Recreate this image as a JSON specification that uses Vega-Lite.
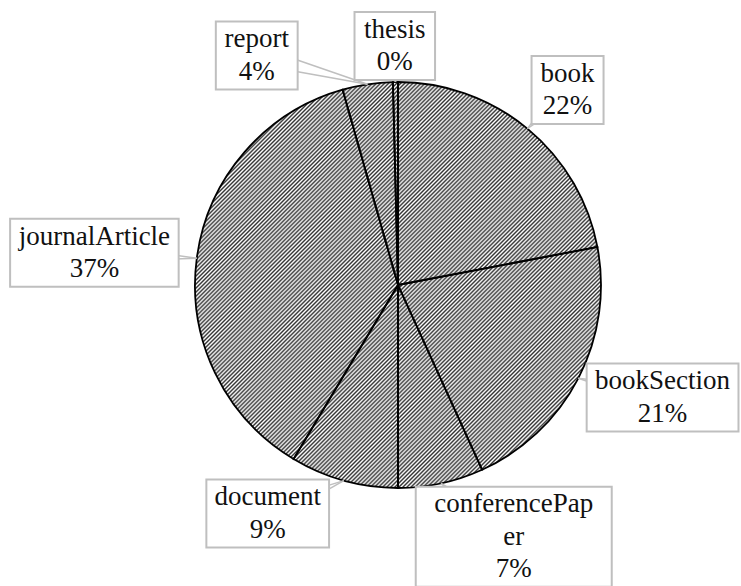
{
  "$schema": "https://vega.github.io/schema/vega-lite/v6.json",
  "width": 686,
  "height": 570,
  "autosize": "none",
  "padding": {"left": 55, "top": 0, "right": 0, "bottom": 16},
  "background": "white",
  "config": {"view": {"stroke": null}},
  "data": {
    "values": [
      {"type": "book", "value": 220},
      {"type": "bookSection", "value": 212},
      {"type": "conferencePaper", "value": 68},
      {"type": "document", "value": 86},
      {"type": "journalArticle", "value": 370},
      {"type": "report", "value": 40},
      {"type": "thesis", "value": 4}
    ]
  },
  "transform": [
    {"joinaggregate": [{"op": "sum", "field": "value", "as": "total"}]},
    {"window": [{"op": "sum", "field": "value", "as": "cum"}], "sort": [{"field": "type", "order": "ascending"}], "frame": [null, 0]},
    {"calculate": "datum.value / datum.total", "as": "share"},
    {"calculate": "(datum.cum - datum.value / 2) / datum.total * 2 * PI", "as": "mid"},
    {"calculate": "length(datum.type) > 14 ? [substring(datum.type, 0, 13), substring(datum.type, 13), format(datum.share, '.0%')] : [datum.type, format(datum.share, '.0%')]", "as": "lines"},
    {"calculate": "datum.lines[0]", "as": "t0"},
    {"calculate": "27 * (0.5 * length(datum.t0) - 0.222 * (length(datum.t0) - length(replace(datum.t0, regexp('[ijlt]', 'g'), ''))) - 0.167 * (length(datum.t0) - length(replace(datum.t0, regexp('[fr]', 'g'), ''))) - 0.08 * (length(datum.t0) - length(replace(datum.t0, regexp('[sceaz]', 'g'), ''))) + 0.26 * (length(datum.t0) - length(replace(datum.t0, regexp('[mwACDGHNOQUVW]', 'g'), ''))) + 0.06 * (length(datum.t0) - length(replace(datum.t0, regexp('[BEFKPRSTXYZ]', 'g'), ''))))", "as": "w1"},
    {"calculate": "length(datum.lines) > 2 ? 98 : datum.w1 / 2 + 9", "as": "hw"},
    {"calculate": "length(datum.lines) * 16 + 2", "as": "hh"},
    {"calculate": "datum.mid + (datum.type === 'report' ? -0.372 : datum.type === 'document' ? 0.19 : datum.type === 'conferencePaper' ? -0.147 : 0)", "as": "a"},
    {"calculate": "datum.type === 'report' ? 20 : datum.type === 'document' ? 10 : datum.type === 'conferencePaper' ? 8 : datum.type === 'book' ? 8 : datum.type === 'thesis' ? -6 : 0", "as": "rn"},
    {"calculate": "(222 + datum.hw + datum.rn) * sin(datum.a)", "as": "cx"},
    {"calculate": "(211 + datum.hh + datum.rn) * cos(datum.a)", "as": "cy"},
    {"calculate": "datum.cy + (length(datum.lines) - 1) * 16.25", "as": "ty"},
    {"calculate": "203 * sin(datum.mid)", "as": "tipx"},
    {"calculate": "203 * cos(datum.mid)", "as": "tipy"},
    {"calculate": "datum.cx - datum.hw", "as": "bx1"},
    {"calculate": "datum.cx + datum.hw", "as": "bx2"},
    {"calculate": "datum.cy - datum.hh", "as": "by1"},
    {"calculate": "datum.cy + datum.hh", "as": "by2"},
    {"calculate": "sqrt(pow(datum.cx - datum.tipx, 2) + pow(datum.cy - datum.tipy, 2))", "as": "len"},
    {"calculate": "datum.cx - (datum.cy - datum.tipy) / datum.len * 9", "as": "v1x"},
    {"calculate": "datum.cy + (datum.cx - datum.tipx) / datum.len * 9", "as": "v1y"},
    {"calculate": "datum.cx + (datum.cy - datum.tipy) / datum.len * 9", "as": "v2x"},
    {"calculate": "datum.cy - (datum.cx - datum.tipx) / datum.len * 9", "as": "v2y"}
  ],
  "layer": [
    {
      "transform": [{"aggregate": [{"op": "sum", "field": "value", "as": "sum"}]}],
      "mark": {
        "type": "arc",
        "outerRadius": 203,
        "stroke": null,
        "fill": {
          "gradient": "linear", "x1": 0, "y1": 0, "x2": 1, "y2": 1,
          "stops": [
{"offset":0,"color":"#333"},{"offset":0.0025,"color":"#fff"},{"offset":0.005,"color":"#333"},{"offset":0.0075,"color":"#fff"},{"offset":0.01,"color":"#333"},{"offset":0.0125,"color":"#fff"},{"offset":0.015,"color":"#333"},{"offset":0.0175,"color":"#fff"},{"offset":0.02,"color":"#333"},{"offset":0.0225,"color":"#fff"},
{"offset":0.025,"color":"#333"},{"offset":0.0275,"color":"#fff"},{"offset":0.03,"color":"#333"},{"offset":0.0325,"color":"#fff"},{"offset":0.035,"color":"#333"},{"offset":0.0375,"color":"#fff"},{"offset":0.04,"color":"#333"},{"offset":0.0425,"color":"#fff"},{"offset":0.045,"color":"#333"},{"offset":0.0475,"color":"#fff"},
{"offset":0.05,"color":"#333"},{"offset":0.0525,"color":"#fff"},{"offset":0.055,"color":"#333"},{"offset":0.0575,"color":"#fff"},{"offset":0.06,"color":"#333"},{"offset":0.0625,"color":"#fff"},{"offset":0.065,"color":"#333"},{"offset":0.0675,"color":"#fff"},{"offset":0.07,"color":"#333"},{"offset":0.0725,"color":"#fff"},
{"offset":0.075,"color":"#333"},{"offset":0.0775,"color":"#fff"},{"offset":0.08,"color":"#333"},{"offset":0.0825,"color":"#fff"},{"offset":0.085,"color":"#333"},{"offset":0.0875,"color":"#fff"},{"offset":0.09,"color":"#333"},{"offset":0.0925,"color":"#fff"},{"offset":0.095,"color":"#333"},{"offset":0.0975,"color":"#fff"},
{"offset":0.1,"color":"#333"},{"offset":0.1025,"color":"#fff"},{"offset":0.105,"color":"#333"},{"offset":0.1075,"color":"#fff"},{"offset":0.11,"color":"#333"},{"offset":0.1125,"color":"#fff"},{"offset":0.115,"color":"#333"},{"offset":0.1175,"color":"#fff"},{"offset":0.12,"color":"#333"},{"offset":0.1225,"color":"#fff"},
{"offset":0.125,"color":"#333"},{"offset":0.1275,"color":"#fff"},{"offset":0.13,"color":"#333"},{"offset":0.1325,"color":"#fff"},{"offset":0.135,"color":"#333"},{"offset":0.1375,"color":"#fff"},{"offset":0.14,"color":"#333"},{"offset":0.1425,"color":"#fff"},{"offset":0.145,"color":"#333"},{"offset":0.1475,"color":"#fff"},
{"offset":0.15,"color":"#333"},{"offset":0.1525,"color":"#fff"},{"offset":0.155,"color":"#333"},{"offset":0.1575,"color":"#fff"},{"offset":0.16,"color":"#333"},{"offset":0.1625,"color":"#fff"},{"offset":0.165,"color":"#333"},{"offset":0.1675,"color":"#fff"},{"offset":0.17,"color":"#333"},{"offset":0.1725,"color":"#fff"},
{"offset":0.175,"color":"#333"},{"offset":0.1775,"color":"#fff"},{"offset":0.18,"color":"#333"},{"offset":0.1825,"color":"#fff"},{"offset":0.185,"color":"#333"},{"offset":0.1875,"color":"#fff"},{"offset":0.19,"color":"#333"},{"offset":0.1925,"color":"#fff"},{"offset":0.195,"color":"#333"},{"offset":0.1975,"color":"#fff"},
{"offset":0.2,"color":"#333"},{"offset":0.2025,"color":"#fff"},{"offset":0.205,"color":"#333"},{"offset":0.2075,"color":"#fff"},{"offset":0.21,"color":"#333"},{"offset":0.2125,"color":"#fff"},{"offset":0.215,"color":"#333"},{"offset":0.2175,"color":"#fff"},{"offset":0.22,"color":"#333"},{"offset":0.2225,"color":"#fff"},
{"offset":0.225,"color":"#333"},{"offset":0.2275,"color":"#fff"},{"offset":0.23,"color":"#333"},{"offset":0.2325,"color":"#fff"},{"offset":0.235,"color":"#333"},{"offset":0.2375,"color":"#fff"},{"offset":0.24,"color":"#333"},{"offset":0.2425,"color":"#fff"},{"offset":0.245,"color":"#333"},{"offset":0.2475,"color":"#fff"},
{"offset":0.25,"color":"#333"},{"offset":0.2525,"color":"#fff"},{"offset":0.255,"color":"#333"},{"offset":0.2575,"color":"#fff"},{"offset":0.26,"color":"#333"},{"offset":0.2625,"color":"#fff"},{"offset":0.265,"color":"#333"},{"offset":0.2675,"color":"#fff"},{"offset":0.27,"color":"#333"},{"offset":0.2725,"color":"#fff"},
{"offset":0.275,"color":"#333"},{"offset":0.2775,"color":"#fff"},{"offset":0.28,"color":"#333"},{"offset":0.2825,"color":"#fff"},{"offset":0.285,"color":"#333"},{"offset":0.2875,"color":"#fff"},{"offset":0.29,"color":"#333"},{"offset":0.2925,"color":"#fff"},{"offset":0.295,"color":"#333"},{"offset":0.2975,"color":"#fff"},
{"offset":0.3,"color":"#333"},{"offset":0.3025,"color":"#fff"},{"offset":0.305,"color":"#333"},{"offset":0.3075,"color":"#fff"},{"offset":0.31,"color":"#333"},{"offset":0.3125,"color":"#fff"},{"offset":0.315,"color":"#333"},{"offset":0.3175,"color":"#fff"},{"offset":0.32,"color":"#333"},{"offset":0.3225,"color":"#fff"},
{"offset":0.325,"color":"#333"},{"offset":0.3275,"color":"#fff"},{"offset":0.33,"color":"#333"},{"offset":0.3325,"color":"#fff"},{"offset":0.335,"color":"#333"},{"offset":0.3375,"color":"#fff"},{"offset":0.34,"color":"#333"},{"offset":0.3425,"color":"#fff"},{"offset":0.345,"color":"#333"},{"offset":0.3475,"color":"#fff"},
{"offset":0.35,"color":"#333"},{"offset":0.3525,"color":"#fff"},{"offset":0.355,"color":"#333"},{"offset":0.3575,"color":"#fff"},{"offset":0.36,"color":"#333"},{"offset":0.3625,"color":"#fff"},{"offset":0.365,"color":"#333"},{"offset":0.3675,"color":"#fff"},{"offset":0.37,"color":"#333"},{"offset":0.3725,"color":"#fff"},
{"offset":0.375,"color":"#333"},{"offset":0.3775,"color":"#fff"},{"offset":0.38,"color":"#333"},{"offset":0.3825,"color":"#fff"},{"offset":0.385,"color":"#333"},{"offset":0.3875,"color":"#fff"},{"offset":0.39,"color":"#333"},{"offset":0.3925,"color":"#fff"},{"offset":0.395,"color":"#333"},{"offset":0.3975,"color":"#fff"},
{"offset":0.4,"color":"#333"},{"offset":0.4025,"color":"#fff"},{"offset":0.405,"color":"#333"},{"offset":0.4075,"color":"#fff"},{"offset":0.41,"color":"#333"},{"offset":0.4125,"color":"#fff"},{"offset":0.415,"color":"#333"},{"offset":0.4175,"color":"#fff"},{"offset":0.42,"color":"#333"},{"offset":0.4225,"color":"#fff"},
{"offset":0.425,"color":"#333"},{"offset":0.4275,"color":"#fff"},{"offset":0.43,"color":"#333"},{"offset":0.4325,"color":"#fff"},{"offset":0.435,"color":"#333"},{"offset":0.4375,"color":"#fff"},{"offset":0.44,"color":"#333"},{"offset":0.4425,"color":"#fff"},{"offset":0.445,"color":"#333"},{"offset":0.4475,"color":"#fff"},
{"offset":0.45,"color":"#333"},{"offset":0.4525,"color":"#fff"},{"offset":0.455,"color":"#333"},{"offset":0.4575,"color":"#fff"},{"offset":0.46,"color":"#333"},{"offset":0.4625,"color":"#fff"},{"offset":0.465,"color":"#333"},{"offset":0.4675,"color":"#fff"},{"offset":0.47,"color":"#333"},{"offset":0.4725,"color":"#fff"},
{"offset":0.475,"color":"#333"},{"offset":0.4775,"color":"#fff"},{"offset":0.48,"color":"#333"},{"offset":0.4825,"color":"#fff"},{"offset":0.485,"color":"#333"},{"offset":0.4875,"color":"#fff"},{"offset":0.49,"color":"#333"},{"offset":0.4925,"color":"#fff"},{"offset":0.495,"color":"#333"},{"offset":0.4975,"color":"#fff"},
{"offset":0.5,"color":"#333"},{"offset":0.5025,"color":"#fff"},{"offset":0.505,"color":"#333"},{"offset":0.5075,"color":"#fff"},{"offset":0.51,"color":"#333"},{"offset":0.5125,"color":"#fff"},{"offset":0.515,"color":"#333"},{"offset":0.5175,"color":"#fff"},{"offset":0.52,"color":"#333"},{"offset":0.5225,"color":"#fff"},
{"offset":0.525,"color":"#333"},{"offset":0.5275,"color":"#fff"},{"offset":0.53,"color":"#333"},{"offset":0.5325,"color":"#fff"},{"offset":0.535,"color":"#333"},{"offset":0.5375,"color":"#fff"},{"offset":0.54,"color":"#333"},{"offset":0.5425,"color":"#fff"},{"offset":0.545,"color":"#333"},{"offset":0.5475,"color":"#fff"},
{"offset":0.55,"color":"#333"},{"offset":0.5525,"color":"#fff"},{"offset":0.555,"color":"#333"},{"offset":0.5575,"color":"#fff"},{"offset":0.56,"color":"#333"},{"offset":0.5625,"color":"#fff"},{"offset":0.565,"color":"#333"},{"offset":0.5675,"color":"#fff"},{"offset":0.57,"color":"#333"},{"offset":0.5725,"color":"#fff"},
{"offset":0.575,"color":"#333"},{"offset":0.5775,"color":"#fff"},{"offset":0.58,"color":"#333"},{"offset":0.5825,"color":"#fff"},{"offset":0.585,"color":"#333"},{"offset":0.5875,"color":"#fff"},{"offset":0.59,"color":"#333"},{"offset":0.5925,"color":"#fff"},{"offset":0.595,"color":"#333"},{"offset":0.5975,"color":"#fff"},
{"offset":0.6,"color":"#333"},{"offset":0.6025,"color":"#fff"},{"offset":0.605,"color":"#333"},{"offset":0.6075,"color":"#fff"},{"offset":0.61,"color":"#333"},{"offset":0.6125,"color":"#fff"},{"offset":0.615,"color":"#333"},{"offset":0.6175,"color":"#fff"},{"offset":0.62,"color":"#333"},{"offset":0.6225,"color":"#fff"},
{"offset":0.625,"color":"#333"},{"offset":0.6275,"color":"#fff"},{"offset":0.63,"color":"#333"},{"offset":0.6325,"color":"#fff"},{"offset":0.635,"color":"#333"},{"offset":0.6375,"color":"#fff"},{"offset":0.64,"color":"#333"},{"offset":0.6425,"color":"#fff"},{"offset":0.645,"color":"#333"},{"offset":0.6475,"color":"#fff"},
{"offset":0.65,"color":"#333"},{"offset":0.6525,"color":"#fff"},{"offset":0.655,"color":"#333"},{"offset":0.6575,"color":"#fff"},{"offset":0.66,"color":"#333"},{"offset":0.6625,"color":"#fff"},{"offset":0.665,"color":"#333"},{"offset":0.6675,"color":"#fff"},{"offset":0.67,"color":"#333"},{"offset":0.6725,"color":"#fff"},
{"offset":0.675,"color":"#333"},{"offset":0.6775,"color":"#fff"},{"offset":0.68,"color":"#333"},{"offset":0.6825,"color":"#fff"},{"offset":0.685,"color":"#333"},{"offset":0.6875,"color":"#fff"},{"offset":0.69,"color":"#333"},{"offset":0.6925,"color":"#fff"},{"offset":0.695,"color":"#333"},{"offset":0.6975,"color":"#fff"},
{"offset":0.7,"color":"#333"},{"offset":0.7025,"color":"#fff"},{"offset":0.705,"color":"#333"},{"offset":0.7075,"color":"#fff"},{"offset":0.71,"color":"#333"},{"offset":0.7125,"color":"#fff"},{"offset":0.715,"color":"#333"},{"offset":0.7175,"color":"#fff"},{"offset":0.72,"color":"#333"},{"offset":0.7225,"color":"#fff"},
{"offset":0.725,"color":"#333"},{"offset":0.7275,"color":"#fff"},{"offset":0.73,"color":"#333"},{"offset":0.7325,"color":"#fff"},{"offset":0.735,"color":"#333"},{"offset":0.7375,"color":"#fff"},{"offset":0.74,"color":"#333"},{"offset":0.7425,"color":"#fff"},{"offset":0.745,"color":"#333"},{"offset":0.7475,"color":"#fff"},
{"offset":0.75,"color":"#333"},{"offset":0.7525,"color":"#fff"},{"offset":0.755,"color":"#333"},{"offset":0.7575,"color":"#fff"},{"offset":0.76,"color":"#333"},{"offset":0.7625,"color":"#fff"},{"offset":0.765,"color":"#333"},{"offset":0.7675,"color":"#fff"},{"offset":0.77,"color":"#333"},{"offset":0.7725,"color":"#fff"},
{"offset":0.775,"color":"#333"},{"offset":0.7775,"color":"#fff"},{"offset":0.78,"color":"#333"},{"offset":0.7825,"color":"#fff"},{"offset":0.785,"color":"#333"},{"offset":0.7875,"color":"#fff"},{"offset":0.79,"color":"#333"},{"offset":0.7925,"color":"#fff"},{"offset":0.795,"color":"#333"},{"offset":0.7975,"color":"#fff"},
{"offset":0.8,"color":"#333"},{"offset":0.8025,"color":"#fff"},{"offset":0.805,"color":"#333"},{"offset":0.8075,"color":"#fff"},{"offset":0.81,"color":"#333"},{"offset":0.8125,"color":"#fff"},{"offset":0.815,"color":"#333"},{"offset":0.8175,"color":"#fff"},{"offset":0.82,"color":"#333"},{"offset":0.8225,"color":"#fff"},
{"offset":0.825,"color":"#333"},{"offset":0.8275,"color":"#fff"},{"offset":0.83,"color":"#333"},{"offset":0.8325,"color":"#fff"},{"offset":0.835,"color":"#333"},{"offset":0.8375,"color":"#fff"},{"offset":0.84,"color":"#333"},{"offset":0.8425,"color":"#fff"},{"offset":0.845,"color":"#333"},{"offset":0.8475,"color":"#fff"},
{"offset":0.85,"color":"#333"},{"offset":0.8525,"color":"#fff"},{"offset":0.855,"color":"#333"},{"offset":0.8575,"color":"#fff"},{"offset":0.86,"color":"#333"},{"offset":0.8625,"color":"#fff"},{"offset":0.865,"color":"#333"},{"offset":0.8675,"color":"#fff"},{"offset":0.87,"color":"#333"},{"offset":0.8725,"color":"#fff"},
{"offset":0.875,"color":"#333"},{"offset":0.8775,"color":"#fff"},{"offset":0.88,"color":"#333"},{"offset":0.8825,"color":"#fff"},{"offset":0.885,"color":"#333"},{"offset":0.8875,"color":"#fff"},{"offset":0.89,"color":"#333"},{"offset":0.8925,"color":"#fff"},{"offset":0.895,"color":"#333"},{"offset":0.8975,"color":"#fff"},
{"offset":0.9,"color":"#333"},{"offset":0.9025,"color":"#fff"},{"offset":0.905,"color":"#333"},{"offset":0.9075,"color":"#fff"},{"offset":0.91,"color":"#333"},{"offset":0.9125,"color":"#fff"},{"offset":0.915,"color":"#333"},{"offset":0.9175,"color":"#fff"},{"offset":0.92,"color":"#333"},{"offset":0.9225,"color":"#fff"},
{"offset":0.925,"color":"#333"},{"offset":0.9275,"color":"#fff"},{"offset":0.93,"color":"#333"},{"offset":0.9325,"color":"#fff"},{"offset":0.935,"color":"#333"},{"offset":0.9375,"color":"#fff"},{"offset":0.94,"color":"#333"},{"offset":0.9425,"color":"#fff"},{"offset":0.945,"color":"#333"},{"offset":0.9475,"color":"#fff"},
{"offset":0.95,"color":"#333"},{"offset":0.9525,"color":"#fff"},{"offset":0.955,"color":"#333"},{"offset":0.9575,"color":"#fff"},{"offset":0.96,"color":"#333"},{"offset":0.9625,"color":"#fff"},{"offset":0.965,"color":"#333"},{"offset":0.9675,"color":"#fff"},{"offset":0.97,"color":"#333"},{"offset":0.9725,"color":"#fff"},
{"offset":0.975,"color":"#333"},{"offset":0.9775,"color":"#fff"},{"offset":0.98,"color":"#333"},{"offset":0.9825,"color":"#fff"},{"offset":0.985,"color":"#333"},{"offset":0.9875,"color":"#fff"},{"offset":0.99,"color":"#333"},{"offset":0.9925,"color":"#fff"},{"offset":0.995,"color":"#333"},{"offset":0.9975,"color":"#fff"},
{"offset":1,"color":"#333"}
          ]
        }
      },
      "encoding": {"theta": {"field": "sum", "type": "quantitative"}}
    },
    {
      "mark": {"type": "arc", "outerRadius": 203, "fillOpacity": 0, "stroke": "#000", "strokeWidth": 1.8},
      "encoding": {"theta": {"field": "value", "type": "quantitative", "stack": true}}
    },
    {
      "mark": {"type": "rule", "color": "#bfbfbf", "strokeWidth": 1.5},
      "encoding": {
        "x": {"field": "tipx", "type": "quantitative", "scale": {"domain": [-343, 343], "nice": false, "zero": false}, "axis": null},
        "y": {"field": "tipy", "type": "quantitative", "scale": {"domain": [-285, 285], "nice": false, "zero": false}, "axis": null},
        "x2": {"field": "v1x"},
        "y2": {"field": "v1y"}
      }
    },
    {
      "mark": {"type": "rule", "color": "#bfbfbf", "strokeWidth": 1.5},
      "encoding": {
        "x": {"field": "tipx", "type": "quantitative", "scale": {"domain": [-343, 343], "nice": false, "zero": false}, "axis": null},
        "y": {"field": "tipy", "type": "quantitative", "scale": {"domain": [-285, 285], "nice": false, "zero": false}, "axis": null},
        "x2": {"field": "v2x"},
        "y2": {"field": "v2y"}
      }
    },
    {
      "mark": {"type": "rect", "fill": "white", "stroke": "#bfbfbf", "strokeWidth": 2},
      "encoding": {
        "x": {"field": "bx1", "type": "quantitative", "scale": {"domain": [-343, 343], "nice": false, "zero": false}, "axis": null},
        "x2": {"field": "bx2"},
        "y": {"field": "by1", "type": "quantitative", "scale": {"domain": [-285, 285], "nice": false, "zero": false}, "axis": null},
        "y2": {"field": "by2"}
      }
    },
    {
      "mark": {"type": "text", "font": "Liberation Serif", "fontSize": 27, "lineHeight": 32.5, "align": "center", "baseline": "middle", "color": "#111"},
      "encoding": {
        "x": {"field": "cx", "type": "quantitative", "scale": {"domain": [-343, 343], "nice": false, "zero": false}, "axis": null},
        "y": {"field": "ty", "type": "quantitative", "scale": {"domain": [-285, 285], "nice": false, "zero": false}, "axis": null},
        "text": {"field": "lines", "type": "nominal"}
      }
    }
  ]
}
